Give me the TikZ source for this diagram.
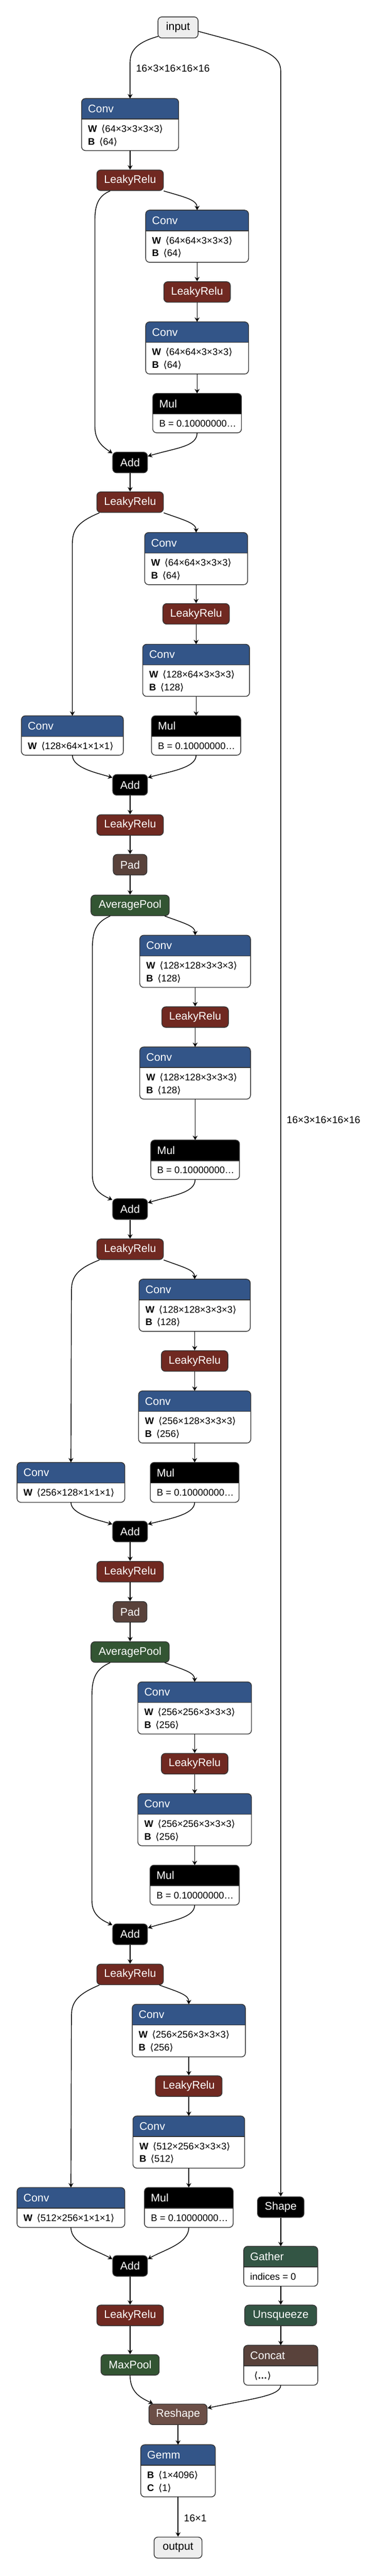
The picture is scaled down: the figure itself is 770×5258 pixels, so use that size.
\documentclass[tikz,border=0pt]{standalone}
\usepackage{fontspec}
\setmainfont{Liberation Sans}
\newfontfamily\djv{DejaVu Sans}
\usetikzlibrary{arrows.meta}
\definecolor{convblue}{HTML}{335588}
\definecolor{actred}{HTML}{702921}
\definecolor{poolgreen}{HTML}{335533}
\definecolor{transgreen}{HTML}{335544}
\definecolor{tensorbrown}{HTML}{59423B}
\definecolor{shapebrown}{HTML}{6C4F47}
\definecolor{bordercol}{HTML}{333333}
\definecolor{iofill}{HTML}{EEEEEE}
\newcommand{\myl}{{\djv ⟨}}
\newcommand{\myr}{{\djv ⟩}}
\tikzset{
  opnode/.style={draw=bordercol, line width=1.5pt, rounded corners=8pt, minimum height=42pt, inner sep=0pt, text=white, font=\fontsize{22.5}{27}\selectfont},
  ionode/.style={opnode, fill=iofill, text=black, minimum height=43pt},
  edge/.style={line width=1.5pt, -{Stealth[length=9pt,width=10pt,inset=3pt]}},
  elabel/.style={anchor=west, inner sep=0pt, font=\fontsize{20.5}{24}\selectfont},
  bodytxt/.style={anchor=base west, inner sep=0pt, font=\fontsize{19.5}{24}\selectfont},
  titletxt/.style={anchor=west, inner sep=0pt, text=white, font=\fontsize{22.5}{27}\selectfont},
  blkbase/.style={fill=white, inner sep=0pt, anchor=north, rounded corners=8pt},
  frame/.style={draw=bordercol, line width=1.5pt},
}
% name, cx, top, width, height, colour, title, line1, line2
\newcommand{\blk}[9]{%
  \node[blkbase, minimum width=#4pt, minimum height=#5pt] (#1) at (#2,#3) {};
  \begin{scope}
    \clip[rounded corners=8pt] (#1.north west) rectangle (#1.south east);
    \fill[#6] (#1.north west) rectangle ([yshift=-42pt]#1.north east);
  \end{scope}
  \draw[frame] ([yshift=-42pt]#1.north west) -- ([yshift=-42pt]#1.north east);
  \draw[frame, rounded corners=8pt] (#1.north west) rectangle (#1.south east);
  \node[titletxt] (#1t) at ([xshift=13pt,yshift=-21pt]#1.north west) {#7};
  \node[bodytxt] (#1a) at ([xshift=13pt,yshift=-68.5pt]#1.north west) {#8};
  \node[bodytxt] (#1b) at ([xshift=13pt,yshift=-94.5pt]#1.north west) {#9};
}
\newcommand{\wl}[1]{\textbf{W}\hspace{9pt}\myl#1\myr}
\newcommand{\bl}[1]{\textbf{B}\hspace{9pt}\myl#1\myr}
\newcommand{\mulb}{B = 0.10000000…}

\begin{document}
\begin{tikzpicture}[x=1pt,y=-1pt]
\fill[white] (0,0) rectangle (770,5258);
\useasboundingbox (0,0) rectangle (770,5258);

% ---------- single nodes ----------
\node[ionode, minimum width=82pt] (input) at (364,56) {input};
\node[opnode, fill=actred, minimum width=136pt] (lr1) at (266,368) {LeakyRelu};
\node[opnode, fill=actred, minimum width=136pt] (lr2) at (403,596) {LeakyRelu};
\node[opnode, fill=black, minimum width=71pt] (add1) at (266,944) {Add};
\node[opnode, fill=actred, minimum width=136pt] (lr3) at (266,1025) {LeakyRelu};
\node[opnode, fill=actred, minimum width=136pt] (lr4) at (401,1253) {LeakyRelu};
\node[opnode, fill=black, minimum width=71pt] (add2) at (266,1602) {Add};
\node[opnode, fill=actred, minimum width=136pt] (lr5) at (266,1684) {LeakyRelu};
\node[opnode, fill=tensorbrown, minimum width=69pt] (pad1) at (266,1765) {Pad};
\node[opnode, fill=poolgreen, minimum width=160pt] (ap1) at (266,1848) {AveragePool};
\node[opnode, fill=actred, minimum width=136pt] (lr6) at (399,2076) {LeakyRelu};
\node[opnode, fill=black, minimum width=71pt] (add3) at (266,2468) {Add};
\node[opnode, fill=actred, minimum width=136pt] (lr7) at (266,2550) {LeakyRelu};
\node[opnode, fill=actred, minimum width=136pt] (lr8) at (398,2778) {LeakyRelu};
\node[opnode, fill=black, minimum width=71pt] (add4) at (266,3126) {Add};
\node[opnode, fill=actred, minimum width=136pt] (lr9) at (266,3208) {LeakyRelu};
\node[opnode, fill=tensorbrown, minimum width=69pt] (pad2) at (266,3290) {Pad};
\node[opnode, fill=poolgreen, minimum width=160pt] (ap2) at (266,3372) {AveragePool};
\node[opnode, fill=actred, minimum width=136pt] (lr10) at (398,3600) {LeakyRelu};
\node[opnode, fill=black, minimum width=71pt] (add5) at (266,3948) {Add};
\node[opnode, fill=actred, minimum width=136pt] (lr11) at (266,4030) {LeakyRelu};
\node[opnode, fill=actred, minimum width=136pt] (lr12) at (386,4258) {LeakyRelu};
\node[opnode, fill=black, minimum width=95pt] (shape) at (574,4505) {Shape};
\node[opnode, fill=black, minimum width=71pt] (add6) at (266,4625) {Add};
\node[opnode, fill=actred, minimum width=136pt] (lr13) at (266,4726) {LeakyRelu};
\node[opnode, fill=transgreen, minimum width=147pt] (unsq) at (574,4726) {Unsqueeze};
\node[opnode, fill=poolgreen, minimum width=119pt] (maxpool) at (266,4827) {MaxPool};
\node[opnode, fill=shapebrown, minimum width=119pt] (reshape) at (364,4928) {Reshape};
\node[ionode, minimum width=98pt] (output) at (364,5200) {output};

% ---------- block nodes ----------
\blk{conv1}{266}{201}{198}{106}{convblue}{Conv}{\wl{64×3×3×3×3}}{\bl{64}}
\blk{conv2}{403}{429}{210}{106}{convblue}{Conv}{\wl{64×64×3×3×3}}{\bl{64}}
\blk{conv3}{403}{657}{210}{106}{convblue}{Conv}{\wl{64×64×3×3×3}}{\bl{64}}
\blk{mul1}{403}{803}{181}{80}{black}{Mul}{\mulb}{}
\blk{conv4}{401}{1087}{210}{106}{convblue}{Conv}{\wl{64×64×3×3×3}}{\bl{64}}
\blk{conv5}{401}{1315}{218}{106}{convblue}{Conv}{\wl{128×64×3×3×3}}{\bl{128}}
\blk{convs1}{148}{1461}{208}{80}{convblue}{Conv}{\wl{128×64×1×1×1}}{}
\blk{mul2}{401}{1461}{182}{80}{black}{Mul}{\mulb}{}
\blk{conv6}{399}{1909}{226}{106}{convblue}{Conv}{\wl{128×128×3×3×3}}{\bl{128}}
\blk{conv7}{399}{2137}{226}{106}{convblue}{Conv}{\wl{128×128×3×3×3}}{\bl{128}}
\blk{mul3}{399}{2327}{181}{80}{black}{Mul}{\mulb}{}
\blk{conv8}{398}{2611}{227}{106}{convblue}{Conv}{\wl{128×128×3×3×3}}{\bl{128}}
\blk{conv9}{398}{2839}{229}{106}{convblue}{Conv}{\wl{256×128×3×3×3}}{\bl{256}}
\blk{convs2}{145}{2985}{220}{81}{convblue}{Conv}{\wl{256×128×1×1×1}}{}
\blk{mul4}{398}{2985}{181}{81}{black}{Mul}{\mulb}{}
\blk{conv10}{398}{3433}{232}{106}{convblue}{Conv}{\wl{256×256×3×3×3}}{\bl{256}}
\blk{conv11}{398}{3661}{232}{106}{convblue}{Conv}{\wl{256×256×3×3×3}}{\bl{256}}
\blk{mul5}{398}{3807}{182}{81}{black}{Mul}{\mulb}{}
\blk{conv12}{386}{4091}{231}{107}{convblue}{Conv}{\wl{256×256×3×3×3}}{\bl{256}}
\blk{conv13}{386}{4319}{228}{106}{convblue}{Conv}{\wl{512×256×3×3×3}}{\bl{512}}
\blk{convs3}{145}{4465}{220}{81}{convblue}{Conv}{\wl{512×256×1×1×1}}{}
\blk{mul6}{386}{4465}{181}{81}{black}{Mul}{\mulb}{}
\blk{gather}{574}{4585}{151}{81}{transgreen}{Gather}{indices = 0}{}
\blk{concat}{574}{4787}{151}{81}{tensorbrown}{Concat}{\hspace{8pt}\myl\textbf{…}\myr}{}
\blk{gemm}{364}{4990}{152}{106}{convblue}{Gemm}{\bl{1×4096}}{\textbf{C}\hspace{9pt}\myl1\myr}

% ---------- edges: straight ----------
\foreach \a/\b in {conv1/lr1, conv2/lr2, lr2/conv3, conv3/mul1, add1/lr3,
  conv4/lr4, lr4/conv5, conv5/mul2, add2/lr5, lr5/pad1, pad1/ap1,
  conv6/lr6, lr6/conv7, conv7/mul3, add3/lr7, conv8/lr8, lr8/conv9, conv9/mul4,
  add4/lr9, lr9/pad2, pad2/ap2, conv10/lr10, lr10/conv11, conv11/mul5, add5/lr11,
  conv12/lr12, lr12/conv13, conv13/mul6, add6/lr13, lr13/maxpool,
  shape/gather, gather/unsq, unsq/concat, reshape/gemm, gemm/output}
  \draw[edge] (\a.south) -- (\b.north);

% ---------- edges: curved ----------
\draw[edge] ([xshift=1pt,yshift=4pt]input.south west) .. controls (285,85) and (266,100) .. (266,127) -- (conv1.north);
\node[elabel] (lbl1) at (278,140) {16×3×16×16×16};
\draw[edge] ([yshift=-8pt]input.east) .. controls (520,95) and (574,105) .. (574,145) -- (shape.north);
\node[elabel] (lbl2) at (586,2286) {16×3×16×16×16};
\node[elabel] (lbl3) at (376,5140) {16×1};

% forks to the right
\draw[edge] (lr1.south east) .. controls (380,403) and (403,408) .. (conv2.north);
\draw[edge] (lr3.south east) .. controls (378,1062) and (401,1068) .. (conv4.north);
\draw[edge] ([xshift=-10pt]ap1.south east) .. controls (378,1885) and (399,1890) .. (conv6.north);
\draw[edge] (lr7.south east) .. controls (376,2587) and (398,2592) .. (conv8.north);
\draw[edge] ([xshift=-10pt]ap2.south east) .. controls (378,3409) and (398,3414) .. (conv10.north);
\draw[edge] ([xshift=-9pt]lr11.south east) .. controls (368,4067) and (386,4072) .. (conv12.north);

% skips to the left
\draw[edge] ([xshift=28pt]lr1.south west) .. controls (200,400) and (194,420) .. (194,450) -- (194,870) .. controls (194,900) and (210,912) .. ([yshift=-3pt]add1.north west);
\draw[edge] ([xshift=6pt]lr3.south west) .. controls (160,1065) and (148,1080) .. (148,1110) -- (convs1.north);
\draw[edge] ([xshift=40pt]ap1.south west) .. controls (197,1882) and (189,1900) .. (189,1935) -- (189,2400) .. controls (189,2430) and (210,2440) .. ([yshift=-3pt]add3.north west);
\draw[edge] ([xshift=6pt]lr7.south west) .. controls (160,2589) and (146,2604) .. (146,2635) -- (convs2.north);
\draw[edge] ([xshift=40pt]ap2.south west) .. controls (197,3406) and (188,3424) .. (188,3460) -- (188,3880) .. controls (188,3910) and (210,3920) .. ([yshift=-3pt]add5.north west);
\draw[edge] ([xshift=6pt]lr11.south west) .. controls (160,4070) and (146,4085) .. (146,4115) -- (convs3.north);

% merges into Add
\draw[edge] (mul1.south) .. controls (403,912) and (360,914) .. ([yshift=-9pt]add1.north east);
\draw[edge] (convs1.south) .. controls (148,1568) and (200,1578) .. ([yshift=-7pt]add2.north west);
\draw[edge] (mul2.south) .. controls (401,1568) and (345,1575) .. ([yshift=-7pt]add2.north east);
\draw[edge] (mul3.south) .. controls (399,2436) and (350,2440) .. ([yshift=-9pt]add3.north east);
\draw[edge] (convs2.south) .. controls (145,3092) and (200,3102) .. ([yshift=-7pt]add4.north west);
\draw[edge] (mul4.south) .. controls (398,3092) and (345,3100) .. ([yshift=-7pt]add4.north east);
\draw[edge] (mul5.south) .. controls (398,3915) and (350,3920) .. ([yshift=-9pt]add5.north east);
\draw[edge] (convs3.south) .. controls (145,4580) and (195,4592) .. ([yshift=-8pt]add6.north west);
\draw[edge] (mul6.south) .. controls (386,4580) and (335,4592) .. ([yshift=-8pt]add6.north east);

% into Reshape
\draw[edge] (maxpool.south) .. controls (266,4885) and (290,4895) .. ([xshift=9pt]reshape.north west);
\draw[edge] (concat.south) .. controls (574,4890) and (520,4895) .. ([yshift=-9pt]reshape.north east);
\end{tikzpicture}
\end{document}
